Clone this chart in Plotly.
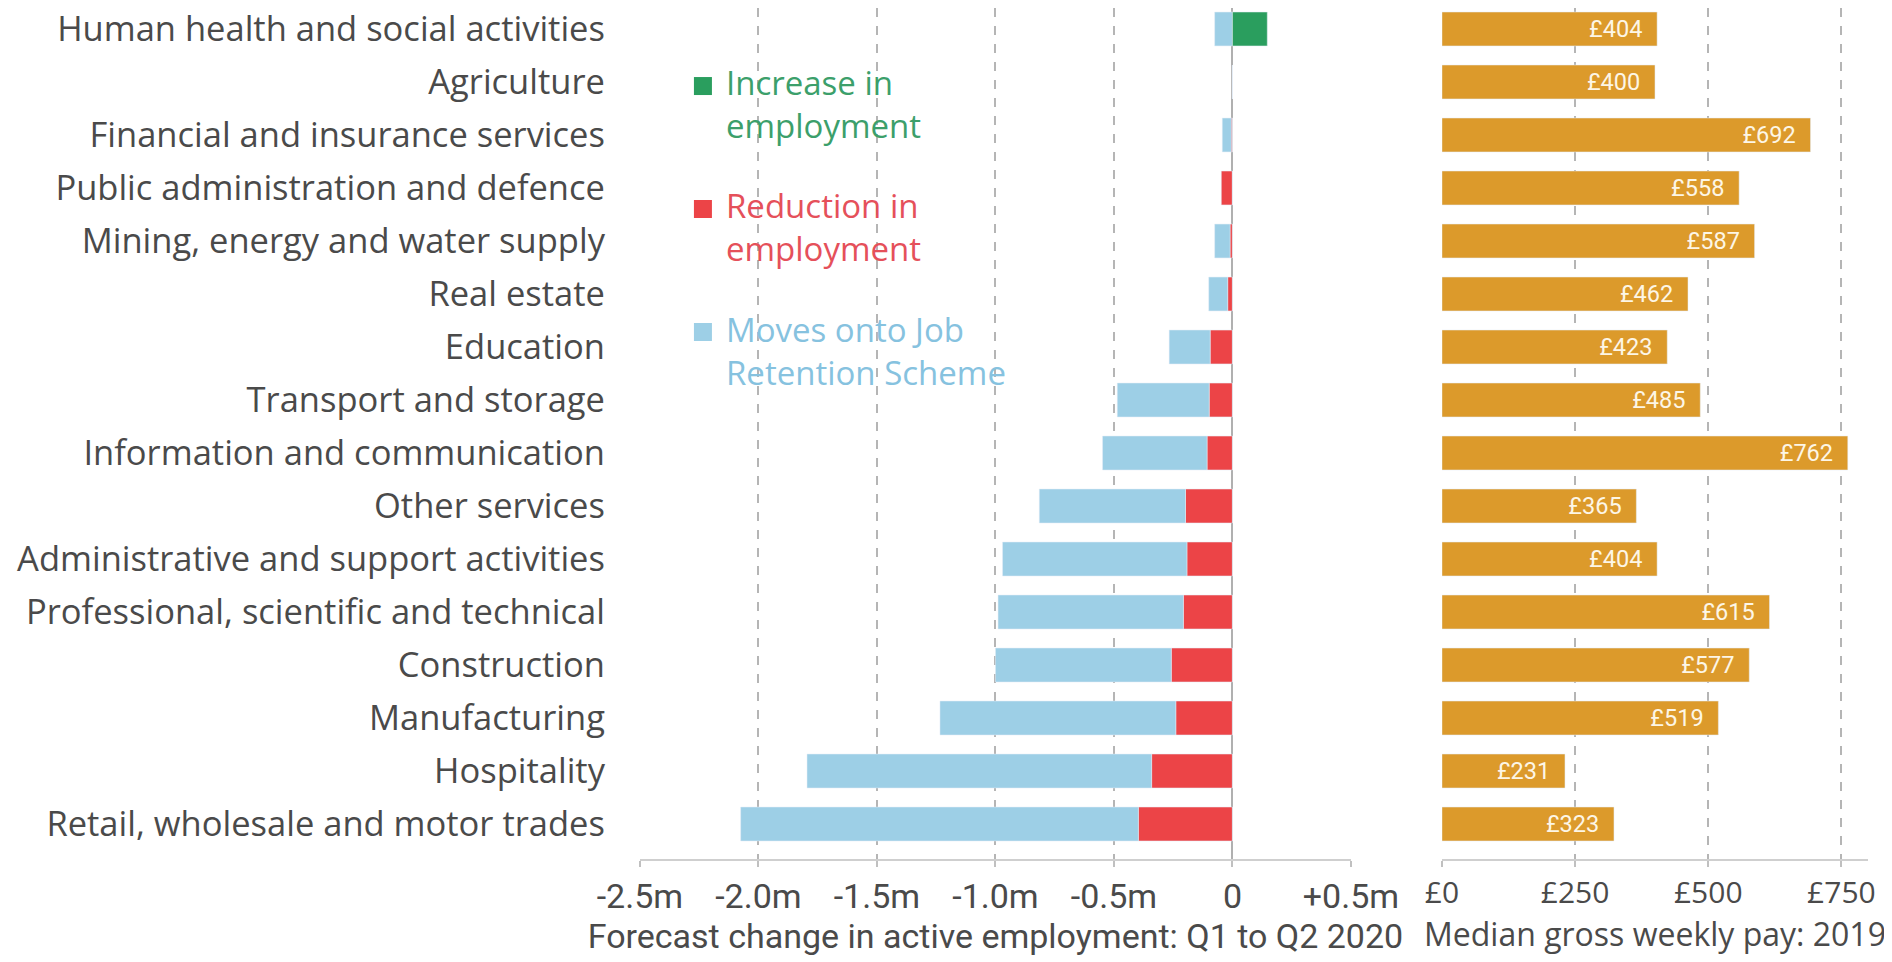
import plotly.graph_objects as go

sectors = [
    "Human health and social activities",
    "Agriculture",
    "Financial and insurance services",
    "Public administration and defence",
    "Mining, energy and water supply",
    "Real estate",
    "Education",
    "Transport and storage",
    "Information and communication",
    "Other services",
    "Administrative and support activities",
    "Professional, scientific and technical",
    "Construction",
    "Manufacturing",
    "Hospitality",
    "Retail, wholesale and motor trades",
]
# million people
increase = [0.147, 0, 0, 0, 0, 0, 0, 0, 0, 0, 0, 0, 0, 0, 0, 0]
reduction = [0, 0, -0.005, -0.047, -0.010, -0.020, -0.094, -0.098, -0.107,
             -0.198, -0.192, -0.207, -0.258, -0.239, -0.341, -0.397]
jrs = [-0.075, 0, -0.038, 0, -0.065, -0.080, -0.173, -0.388, -0.441,
       -0.617, -0.778, -0.782, -0.742, -0.995, -1.454, -1.678]
pay = [404, 400, 692, 558, 587, 462, 423, 485, 762, 365, 404, 615, 577, 519, 231, 323]

x1_ticks = [-2.5, -2.0, -1.5, -1.0, -0.5, 0, 0.5]
x1_labels = ["-2.5m", "-2.0m", "-1.5m", "-1.0m", "-0.5m", "0", "+0.5m"]
x2_ticks = [0, 250, 500, 750]
x2_labels = ["£0", "£250", "£500", "£750"]

GREEN = "#2a9e5e"
RED = "#ec4447"
BLUE = "#9dcfe6"
GOLD = "#dc9a2b"
TXT = "#4a4a4a"
NARROW = "Roboto, Liberation Sans, sans-serif"
SANS = "Open Sans, Liberation Sans, sans-serif"

fig = go.Figure()
bw = 0.64
fig.add_trace(go.Bar(y=sectors, x=reduction, orientation="h", marker_color=RED,
                     width=bw, name="Reduction in employment", xaxis="x", yaxis="y"))
fig.add_trace(go.Bar(y=sectors, x=jrs, orientation="h", marker_color=BLUE,
                     width=bw, name="Moves onto Job Retention Scheme", xaxis="x", yaxis="y"))
fig.add_trace(go.Bar(y=sectors, x=increase, orientation="h", marker_color=GREEN,
                     width=bw, name="Increase in employment", xaxis="x", yaxis="y"))
fig.add_trace(go.Bar(y=sectors, x=pay, orientation="h", marker_color=GOLD,
                     width=bw, xaxis="x2", yaxis="y2",
                     text=[f"£{v}\u00a0\u00a0" for v in pay], textposition="inside",
                     insidetextanchor="end", textangle=0,
                     textfont=dict(family=NARROW, size=27, color="#fdf6e6")))

order = list(reversed(sectors))
yr = [-0.66, 15.396]
fig.update_layout(
    width=1892, height=962,
    margin=dict(l=0, r=0, t=0, b=111),
    paper_bgcolor="white", plot_bgcolor="white",
    barmode="relative", showlegend=False,
    uniformtext=dict(mode=False),
    xaxis=dict(domain=[0.3340, 0.7098], range=[-2.5, 0.5], tickvals=x1_ticks,
               ticktext=x1_labels, showgrid=True, griddash="dash", gridcolor="#b5b5b5",
               gridwidth=1.5, zeroline=True, zerolinecolor="#b0b0b0", zerolinewidth=1.5,
               showline=True, linecolor="#cfcfcf", linewidth=2, ticks="outside",
               ticklen=6, tickcolor="#c0c0c0", tickwidth=2, automargin=False,
               tickfont=dict(family=NARROW, size=34, color=TXT),
               title=dict(text="Forecast change in active employment: Q1 to Q2 2020",
                          font=dict(family=NARROW, size=34, color=TXT), standoff=6)),
    xaxis2=dict(domain=[0.7579, 0.9831], range=[0, 800], tickvals=x2_ticks,
                ticktext=x2_labels, showgrid=True, griddash="dash", gridcolor="#b5b5b5",
                gridwidth=1.5, zeroline=False, showline=True, linecolor="#cfcfcf",
                linewidth=2, ticks="outside", ticklen=6, tickcolor="#c0c0c0", tickwidth=2,
                automargin=False,
                tickfont=dict(family=SANS, size=30, color=TXT),
                title=dict(text="Median gross weekly pay: 2019",
                           font=dict(family=SANS, size=32, color=TXT), standoff=8)),
    yaxis=dict(domain=[0, 1], categoryorder="array", categoryarray=order, range=yr,
               showgrid=False, zeroline=False, showline=False, ticks="",
               automargin=False,
               ticklabelstandoff=34, tickfont=dict(family=SANS, size=34.5, color=TXT)),
    yaxis2=dict(domain=[0, 1], anchor="x2", categoryorder="array", categoryarray=order,
                range=yr, showgrid=False, zeroline=False, showline=False,
                automargin=False, showticklabels=False, ticks=""),
)

# Legend (text + swatches)
legend_items = [
    ("Increase in<br>employment", "#3c9f6b", GREEN, 0.8872, 0.9083),
    ("Reduction in<br>employment", "#e5505a", RED, 0.7421, 0.7638),
    ("Moves onto Job<br>Retention Scheme", "#86c2df", BLUE, 0.5975, 0.6193),
]
for text, tcol, scol, ty, sy in legend_items:
    fig.add_annotation(xref="paper", yref="paper", x=0.3784, y=ty, text=text,
                       showarrow=False, xanchor="left", yanchor="middle", align="left",
                       font=dict(family=SANS, size=33, color=tcol))
    fig.add_shape(type="rect", xref="paper", yref="paper", xsizemode="pixel",
                  ysizemode="pixel", xanchor=0.3673, yanchor=sy,
                  x0=-9, x1=9, y0=-9, y1=9, fillcolor=scol, line_width=0)

fig.write_html("out.html")
